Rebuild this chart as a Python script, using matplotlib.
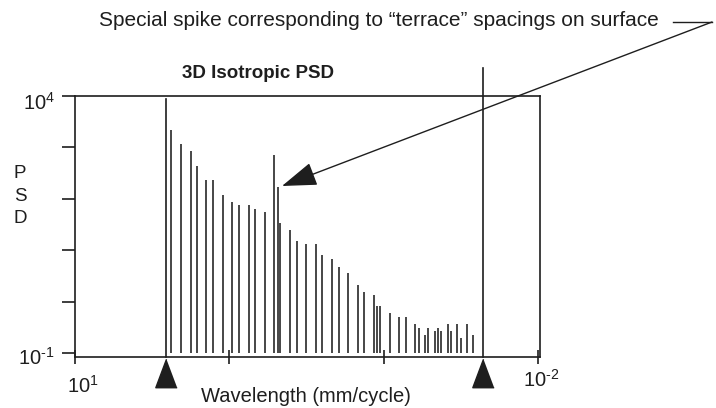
import numpy as np
import matplotlib.pyplot as plt
from matplotlib.patches import FancyArrowPatch
from matplotlib.lines import Line2D

plt.rcParams['font.family'] = ['Liberation Sans', 'DejaVu Sans']
plt.rcParams['mathtext.fontset'] = 'custom'
plt.rcParams['mathtext.rm'] = 'Liberation Sans'
plt.rcParams['mathtext.it'] = 'Liberation Sans'

# wavelength (mm/cycle) and PSD of each spike
wavelength = [2.37, 2.05, 1.78, 1.61, 1.41, 1.275, 1.105, 0.956, 0.862, 0.750,
              0.679, 0.591, 0.511, 0.487, 0.466, 0.403, 0.366, 0.317, 0.275, 0.250,
              0.216, 0.196, 0.170, 0.147, 0.134, 0.116, 0.111, 0.105, 0.0912, 0.0790,
              0.0718, 0.0622, 0.0592, 0.0539, 0.0513, 0.0466, 0.0444, 0.0423, 0.0384, 0.0366,
              0.0333, 0.0316, 0.0288, 0.0262]
psd = [2180, 1160, 846, 438, 236, 236, 121, 88.5, 75.2, 75.2,
       63.7, 54.9, 719, 169, 33.8, 24.7, 15.0, 13.1, 13.1, 7.98,
       6.66, 4.79, 3.54, 2.15, 1.57, 1.35, 0.835, 0.835, 0.600, 0.508,
       0.508, 0.370, 0.313, 0.225, 0.313, 0.266, 0.313, 0.266, 0.370, 0.266,
       0.370, 0.194, 0.370, 0.225]
# band limits marked with triangles
band_limits = [2.59, 0.0227]
x_ticks = [10, 1, 0.1, 0.01]
y_ticks = [1e-1, 1, 10, 100, 1e3, 1e4]

ink = '#1e1e1e'
W, H = 716, 408
fig = plt.figure(figsize=(W / 100, H / 100), dpi=100)
ax = fig.add_axes([75 / W, 1 - 357 / H, 465 / W, 261 / H])

def fx(px):
    return px / W

def fy(py):
    return 1 - py / H

ax.set_xscale('log')
ax.set_yscale('log')
ax.set_xlim(10, 0.0097)
ax.set_ylim(0.0836, 1e4)

ax.vlines(wavelength, 0.1, psd, color=ink, lw=1.15)

# band limit lines and triangles
xt = ax.get_xaxis_transform()
ax.plot([band_limits[0]] * 2, [0, 0.989], color=ink, lw=1.2, transform=xt, clip_on=False)
ax.plot([band_limits[1]] * 2, [0, 1.107], color=ink, lw=1.2, transform=xt, clip_on=False)
tri = [(0, 1), (-0.75, -1), (0.75, -1)]
ax.plot(band_limits, [-0.062, -0.062], ls='none', marker=tri, markersize=20.5,
        color=ink, transform=xt, clip_on=False)

ax.set_xticks(x_ticks)
ax.set_yticks(y_ticks)
ax.minorticks_off()
ax.set_xticklabels([])
ax.set_yticklabels([])
ax.tick_params(axis='y', direction='out', length=9.5, width=1.2, color=ink)
ax.tick_params(axis='x', direction='inout', length=10, width=1.2, color=ink)
for s in ax.spines.values():
    s.set_linewidth(1.2)
    s.set_color(ink)

# tick labels
tl = 14.5
fig.text(fx(55), fy(110), r'$10^4$', ha='right', va='baseline', fontsize=tl, color=ink)
fig.text(fx(55), fy(365), r'$10^{\text{-}1}$', ha='right', va='baseline', fontsize=tl, color=ink)
fig.text(fx(67), fy(393), r'$10^1$', ha='left', va='baseline', fontsize=tl, color=ink)
fig.text(fx(523), fy(387), r'$10^{\text{-}2}$', ha='left', va='baseline', fontsize=tl, color=ink)

fig.text(fx(306), fy(397), 'Wavelength (mm/cycle)', ha='center', va='center',
         fontsize=14.5, color=ink)
fig.text(fx(20), fy(196), 'P\nS\nD', ha='center', va='center', fontsize=13.5,
         linespacing=1.4, color=ink)
fig.text(fx(258), fy(73), '3D Isotropic PSD', ha='center', va='center',
         fontsize=13.5, fontweight='bold', color=ink)

fig.text(fx(99), fy(20), 'Special spike corresponding to \u201cterrace\u201d spacings on surface',
         ha='left', va='center', fontsize=15, color=ink)
fig.add_artist(Line2D([fx(673), fx(712)], [fy(22), fy(22)], color=ink, lw=1.0,
                      transform=fig.transFigure))
fig.add_artist(FancyArrowPatch((fx(712), fy(22)), (fx(282), fy(186)),
                               transform=fig.transFigure,
                               arrowstyle='-|>,head_length=2.2,head_width=0.75',
                               mutation_scale=10, color=ink, lw=1.0,
                               shrinkA=0, shrinkB=0))

fig.savefig('out.png', dpi=100)
